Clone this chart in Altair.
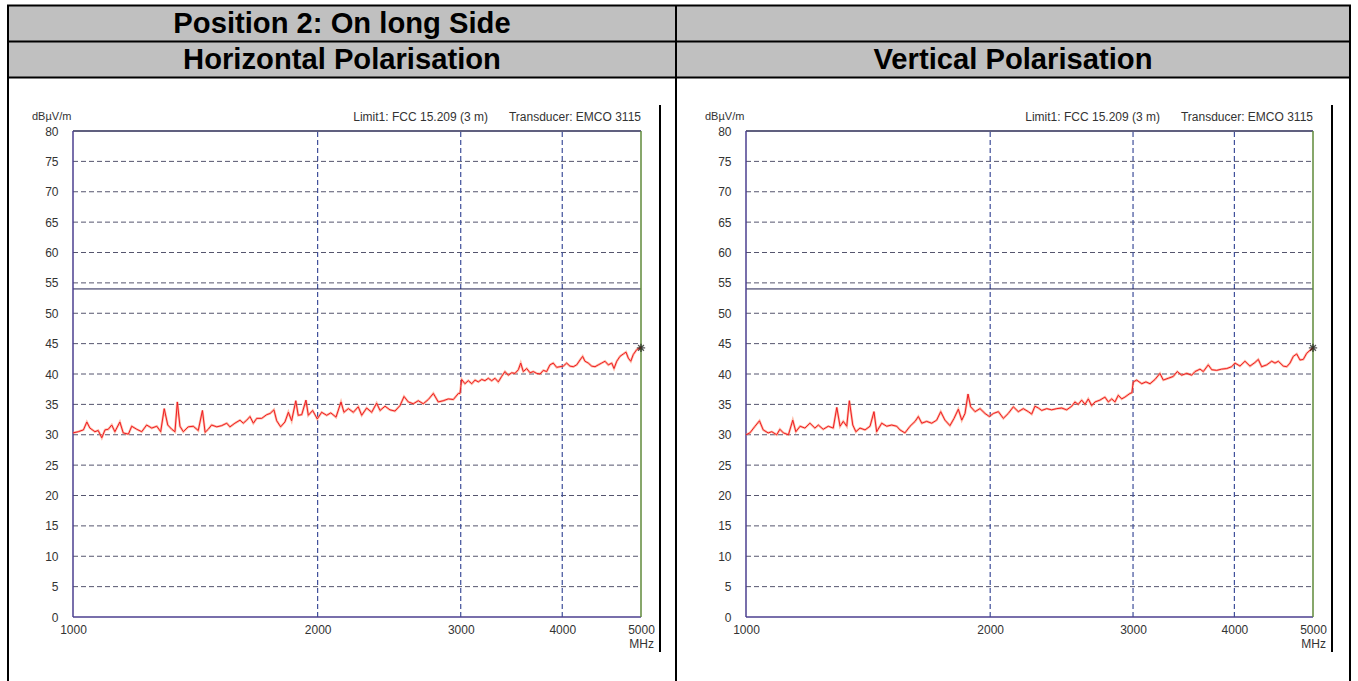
import altair as alt
import pandas as pd

# Measured field strength, horizontal polarisation (MHz, dBµV/m)
H_FREQ = [1000, 1015, 1030, 1040, 1049, 1064, 1074, 1085, 1095, 1105,
          1116, 1126, 1142, 1153, 1170, 1181, 1198, 1215, 1232, 1250,
          1268, 1282, 1295, 1308, 1323, 1335, 1344, 1354, 1367, 1386,
          1406, 1426, 1443, 1454, 1467, 1481, 1503, 1524, 1546, 1560,
          1582, 1605, 1620, 1636, 1651, 1667, 1683, 1707, 1731, 1748,
          1767, 1781, 1801, 1823, 1841, 1858, 1880, 1893, 1912, 1935,
          1948, 1972, 1998, 2023, 2052, 2076, 2107, 2137, 2155, 2182,
          2213, 2244, 2266, 2298, 2331, 2364, 2387, 2421, 2455, 2490,
          2526, 2555, 2586, 2623, 2660, 2698, 2737, 2776, 2815, 2855,
          2896, 2938, 2980,
          2994, 3008, 3036, 3065, 3095, 3124, 3153, 3184, 3213, 3244,
          3275, 3306, 3337, 3369, 3401, 3433, 3466, 3499, 3532, 3556,
          3582, 3617, 3651, 3685, 3720, 3756, 3791, 3827, 3863, 3899,
          3937, 3974, 4012, 4050, 4088, 4127, 4167, 4206, 4238, 4266,
          4306, 4348, 4389, 4430, 4473, 4515, 4558, 4602, 4632, 4668,
          4711, 4756, 4792, 4824, 4857, 4892, 4939, 4985, 5000]
H_LEVEL = [30.3, 30.5, 30.8, 32.1, 31.1, 30.5, 30.7, 29.5, 30.8, 30.9,
           31.6, 30.5, 32.1, 30.3, 30.1, 31.4, 30.9, 30.5, 31.6, 31.1,
           31.4, 30.5, 34.3, 31.6, 30.9, 30.5, 35.4, 31.4, 30.5, 31.3,
           31.4, 30.7, 34.0, 30.4, 30.9, 31.6, 31.3, 31.5, 31.9, 31.3,
           31.9, 32.4, 31.9, 32.4, 33.0, 31.9, 32.7, 32.7, 33.3, 33.5,
           34.1, 32.3, 31.3, 32.1, 33.7, 32.3, 35.6, 33.2, 33.3, 35.7,
           33.2, 34.0, 32.6, 33.7, 33.2, 33.6, 32.9, 35.4, 33.7, 34.3,
           33.7, 34.6, 33.2, 34.4, 33.7, 35.2, 34.0, 34.7, 34.1, 33.9,
           34.8, 36.3, 35.4, 35.1, 35.6, 35.1, 35.8, 36.8, 35.4, 35.6,
           35.9, 35.8, 36.8,
           36.8, 39.1, 38.4, 38.9, 38.4, 39.0, 38.7, 39.1, 38.9, 39.3,
           38.9, 39.3, 38.7, 39.6, 40.4, 39.8, 40.2, 40.1, 40.7, 41.8,
           40.4, 40.9, 40.2, 40.4, 40.1, 40.0, 40.6, 40.4, 41.5, 41.8,
           41.1, 41.2, 41.3, 41.8, 41.3, 41.2, 41.5, 42.3, 42.9, 42.1,
           41.8, 41.3, 41.2, 41.5, 41.8, 42.1, 41.5, 41.8, 40.9, 42.1,
           42.9, 43.3, 43.6, 42.6, 42.1, 43.2, 44.0, 44.3, 44.3]

# Measured field strength, vertical polarisation (MHz, dBµV/m)
V_FREQ = [1000, 1011, 1026, 1039, 1050, 1065, 1076, 1091, 1101, 1112,
          1128, 1142, 1152, 1166, 1182, 1199, 1216, 1228, 1245, 1263,
          1281, 1294, 1306, 1318, 1331, 1341, 1354, 1366, 1382, 1402,
          1422, 1438, 1449, 1470, 1491, 1512, 1534, 1548, 1570, 1593,
          1616, 1631, 1647, 1670, 1694, 1718, 1738, 1759, 1784, 1805,
          1827, 1845, 1862, 1878, 1892, 1916, 1943, 1971, 1995, 2018,
          2047, 2076, 2105, 2136, 2166, 2197, 2229,
          2250, 2271, 2293, 2315, 2348, 2381, 2416, 2450, 2485, 2521,
          2544, 2568, 2593, 2618, 2642, 2668, 2693, 2731, 2770, 2797,
          2824, 2850, 2877, 2905, 2932, 2974, 2990, 3002, 3031, 3075,
          3112, 3148, 3193, 3238, 3269, 3316, 3363, 3401, 3444, 3494,
          3543, 3577, 3628, 3662, 3714, 3751, 3804, 3858, 3914, 3969,
          4007, 4064, 4122, 4181, 4241, 4281, 4322, 4384, 4447, 4489,
          4531, 4596, 4641, 4684, 4728, 4774, 4819, 4864, 4911, 4957,
          5000]
V_LEVEL = [30.0, 30.3, 31.4, 32.3, 30.8, 30.3, 30.5, 30.0, 30.9, 30.3,
           30.0, 32.4, 30.5, 31.4, 31.1, 31.9, 31.1, 31.6, 30.9, 31.4,
           31.1, 34.5, 31.4, 32.2, 31.4, 35.6, 31.6, 30.5, 31.1, 30.8,
           31.4, 33.8, 30.5, 31.9, 31.4, 31.6, 31.4, 30.8, 30.3, 31.4,
           32.2, 33.0, 31.9, 32.2, 31.9, 32.4, 33.8, 32.4, 31.5, 32.7,
           34.2, 32.4, 33.5, 36.7, 34.6, 33.8, 34.3, 33.5, 33.0, 33.5,
           33.8, 32.7, 33.5, 34.6, 33.8, 34.3, 33.8,
           33.4, 34.7, 34.4, 34.0, 34.3, 34.1, 34.3, 34.4, 34.1, 34.7,
           35.4, 35.0, 35.7, 35.0, 35.9, 34.8, 35.4, 35.7, 36.2, 35.4,
           35.9, 35.4, 36.5, 35.9, 36.2, 36.8, 36.9, 38.7, 39.0, 38.4,
           38.7, 38.4, 39.1, 40.1, 39.0, 39.3, 39.6, 40.4, 39.8, 40.1,
           39.8, 40.4, 40.8, 40.4, 41.5, 40.7, 40.6, 40.8, 40.9, 41.2,
           41.8, 41.3, 42.1, 41.3, 41.9, 42.4, 41.2, 41.5, 42.1, 41.8,
           42.1, 41.3, 41.2, 41.8, 42.9, 43.3, 42.3, 42.4, 43.4, 43.9,
           44.3]

X_TICKS = [1000, 2000, 3000, 4000, 5000]
Y_TICKS = list(range(0, 81, 5))
GRID_LEVELS = list(range(5, 80, 5))
GRID_FREQS = [2000, 3000, 4000]
LIMIT_LEVEL = 54
F_MIN, F_MAX = 1000, 5000
L_MIN, L_MAX = 0, 80

W, H = 1358, 681
TOP, BOTTOM = 131, 617
FONT = "Liberation Sans"
ONE = alt.Data(values=[{}])


def hline(x1, x2, y, w=2, color="#000000"):
    return alt.Chart(ONE).mark_rule(strokeWidth=w, color=color).encode(
        x=alt.value(x1), x2=alt.value(x2), y=alt.value(y))


def vline(x, y1, y2, w=2, color="#000000"):
    return alt.Chart(ONE).mark_rule(strokeWidth=w, color=color).encode(
        x=alt.value(x), y=alt.value(y1), y2=alt.value(y2))


def label(text, x, y, size=11, weight="normal", align="left", color="#333333"):
    return alt.Chart(ONE).mark_text(
        text=text, font=FONT, fontSize=size, fontWeight=weight,
        align=align, baseline="middle", color=color,
    ).encode(x=alt.value(x), y=alt.value(y))


def panel(freq, level, left, right):
    xs = alt.Scale(type="log", domain=[F_MIN, F_MAX], range=[left, right], nice=False)
    ys = alt.Scale(domain=[L_MIN, L_MAX], range=[BOTTOM, TOP], nice=False, zero=False)
    xax = alt.Axis(orient="bottom", offset=BOTTOM - H, values=X_TICKS, format="d",
                   domain=False, ticks=False, grid=False, labelPadding=7,
                   labelFont=FONT, labelFontSize=12, labelColor="#333333",
                   labelFlush=False, labelOverlap=False, title=None)
    yax = alt.Axis(orient="left", offset=-left, values=Y_TICKS, format="d",
                   domain=False, ticks=False, grid=False, labelPadding=15,
                   labelFont=FONT, labelFontSize=12, labelColor="#333333",
                   labelFlush=False, labelOverlap=False, title=None)

    def X(f):
        return alt.X(f, type="quantitative", scale=xs, axis=xax)

    def Y(f):
        return alt.Y(f, type="quantitative", scale=ys, axis=yax)

    trace = pd.DataFrame({"f": freq, "v": level})
    hgrid = pd.DataFrame({"v": GRID_LEVELS, "f": F_MIN, "f2": F_MAX})
    vgrid = pd.DataFrame({"f": GRID_FREQS, "v": L_MIN, "v2": L_MAX})
    limit = pd.DataFrame({"v": [LIMIT_LEVEL], "f": [F_MIN], "f2": [F_MAX]})
    edges_h = pd.DataFrame({"v": [L_MIN, L_MAX], "f": F_MIN, "f2": F_MAX,
                            "edge": ["bottom", "top"]})
    edges_v = pd.DataFrame({"f": [F_MIN, F_MAX], "v": L_MIN, "v2": L_MAX,
                            "edge": ["left", "right"]})
    last = pd.DataFrame({"f": [freq[-1]], "v": [level[-1]]})

    edge_color = alt.Color("edge:N", legend=None, scale=alt.Scale(
        domain=["bottom", "top", "left", "right"],
        range=["#4b3f8f", "#2b2b55", "#4b3f8f", "#5f8a3a"]))

    layers = [
        alt.Chart(hgrid).mark_rule(color="#55556e", strokeWidth=1, strokeDash=[5, 3])
        .encode(x=X("f"), x2="f2", y=Y("v")),
        alt.Chart(vgrid).mark_rule(color="#3f4f9a", strokeWidth=1.2, strokeDash=[5, 3])
        .encode(x=X("f"), y=Y("v"), y2="v2"),
        alt.Chart(limit).mark_rule(color="#1f1f4f", strokeWidth=1)
        .encode(x=X("f"), x2="f2", y=Y("v")),
        alt.Chart(edges_h).mark_rule(strokeWidth=1.5)
        .encode(x=X("f"), x2="f2", y=Y("v"), color=edge_color),
        alt.Chart(edges_v).mark_rule(strokeWidth=1.5)
        .encode(x=X("f"), y=Y("v"), y2="v2", color=edge_color),
        alt.Chart(trace).mark_line(color="#ff8c6a", strokeWidth=2.4, opacity=0.6)
        .encode(x=X("f"), y=Y("v")),
        alt.Chart(trace).mark_line(color="#ee1c24", strokeWidth=1)
        .encode(x=X("f"), y=Y("v")),
        alt.Chart(last).mark_point(
            shape="M-1,0L1,0M0,-1L0,1M-0.7,-0.7L0.7,0.7M-0.7,0.7L0.7,-0.7",
            filled=False, color="#111111", strokeWidth=1.3, size=70)
        .encode(x=X("f"), y=Y("v")),
        label("dBµV/m", left - 41, 117, size=11),
        label("Limit1: FCC 15.209 (3 m)", right - 153, 117, size=12, align="right"),
        label("Transducer: EMCO 3115", right, 117, size=12, align="right"),
        label("MHz", right + 13, 644, size=12, align="right"),
    ]
    return alt.layer(*layers)


# Report table: header rows, borders and cell dividers
deco = alt.layer(
    alt.Chart(ONE).mark_rect(color="#c0c0c0").encode(
        x=alt.value(8), x2=alt.value(1350), y=alt.value(5), y2=alt.value(78)),
    hline(7, 1351, 5.5),
    hline(7, 1351, 41.5),
    hline(7, 1351, 77.5),
    vline(8, 5, H),
    vline(676, 5, H),
    vline(1350, 5, H),
    label("Position 2: On long Side", 342, 24, size=29.2, weight="bold",
          align="center", color="#000000"),
    label("Horizontal Polarisation", 342, 60, size=29.2, weight="bold",
          align="center", color="#000000"),
    label("Vertical Polarisation", 1013, 60, size=29.2, weight="bold",
          align="center", color="#000000"),
    vline(660, 105, 652),
    vline(1332, 105, 652),
)

chart = alt.layer(
    deco,
    panel(H_FREQ, H_LEVEL, 73, 641),
    panel(V_FREQ, V_LEVEL, 746, 1313),
).resolve_scale(x="independent", y="independent", color="shared").properties(
    width=W, height=H, padding=0,
    autosize=alt.AutoSizeParams(type="none"),
).configure_view(stroke=None)

chart.save("out.html", embed_options={"renderer": "svg", "actions": False})
